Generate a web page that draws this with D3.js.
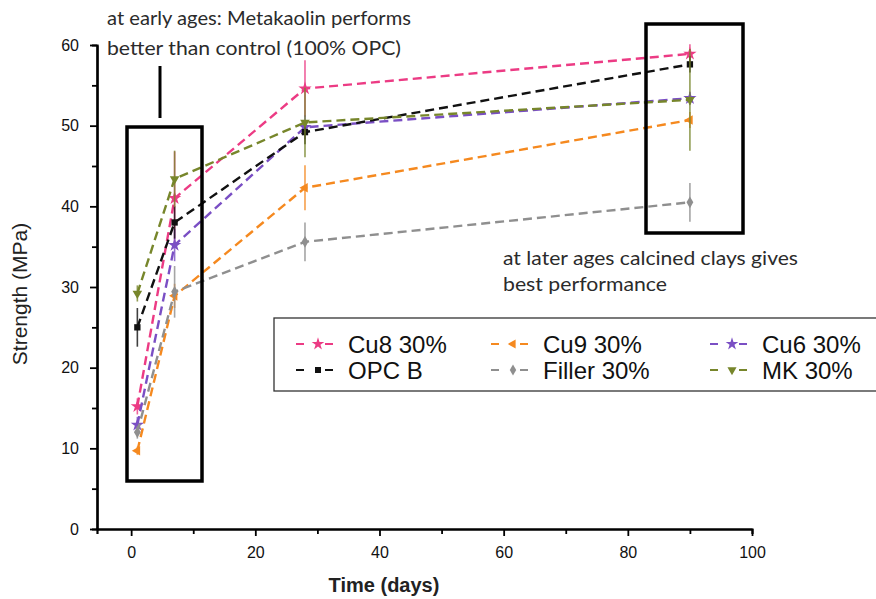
<!DOCTYPE html>
<meta charset="utf-8">
<style>
body{margin:0;background:#fff;}
svg text{font-family:"Liberation Sans",Arial,sans-serif;}
.note{font-family:Lato,"Open Sans",sans-serif;font-size:19px;fill:#2b2b2b;}
</style>
<svg id="chart" width="876" height="599"></svg>
<script src="https://d3js.org/d3.v7.min.js"></script>
<script>
// curing ages and compressive strength of each mix
const days = [1, 7, 28, 90]
const seriesNames = ['Cu8 30%', 'Cu9 30%', 'Cu6 30%', 'OPC B', 'Filler 30%', 'MK 30%']
const cu8 = [15.2, 41.0, 54.6, 58.9]
const cu9 = [9.7, 28.9, 42.3, 50.7]
const cu6 = [12.9, 35.2, 49.8, 53.4]
const opcB = [25.0, 38.0, 49.2, 57.6]
const filler = [12.0, 29.4, 35.6, 40.5]
const mk = [29.2, 43.4, 50.4, 53.2]
const cu8Err = [1.0, 5.8, 3.5, 1.2]
const cu9Err = [0.5, 1.5, 2.8, 1.0]
const cu6Err = [1.0, 2.0, 1.5, 0.8]
const opcErr = [2.4, 2.0, 1.5, 1.0]
const fillerErr = [0.8, 3.2, 2.4, 2.4]
const mkErr = [1.0, 3.5, 4.3, 6.3]
const xTicks = [0, 20, 40, 60, 80, 100]
const yTicks = [0, 10, 20, 30, 40, 50, 60]

const colors = ['#ec3b84', '#f5891f', '#7a4fc4', '#111111', '#8f8f8f', '#77862b']
const symbols = [d3.symbolStar, 'left', d3.symbolStar, d3.symbolSquare, d3.symbolDiamond, 'down']
const values = [cu8, cu9, cu6, opcB, filler, mk]
const errs = [cu8Err, cu9Err, cu6Err, opcErr, fillerErr, mkErr]

const svg = d3.select('#chart')
const x = d3.scaleLinear().domain([-5.5, 100]).range([97, 752])
const y = d3.scaleLinear().domain([0, 60]).range([529, 45])

// axes
const xAxis = svg.append('g').attr('transform', 'translate(0,529)')
  .call(d3.axisBottom(x).tickValues(xTicks).tickSize(7).tickSizeOuter(0))
xAxis.append('g').call(d3.axisBottom(x).tickValues([10, 30, 50, 70, 90]).tickSize(5).tickFormat(''))
const yAxis = svg.append('g').attr('transform', 'translate(97,0)')
  .call(d3.axisLeft(y).tickValues(yTicks).tickSize(7).tickSizeOuter(0))
yAxis.append('g').call(d3.axisLeft(y).tickValues([5, 15, 25, 35, 45, 55]).tickSize(5).tickFormat(''))
svg.selectAll('.domain').attr('stroke', '#000').attr('stroke-width', 2.2)
svg.selectAll('.tick line').attr('stroke', '#000').attr('stroke-width', 1.8)
svg.selectAll('.tick text').attr('fill', '#111')
  .style('font-family', '"Liberation Sans Narrow","Liberation Sans",Arial').style('font-size', '16px')
xAxis.selectAll('.tick text').attr('dy', '1.2em')
yAxis.selectAll('.tick text').attr('dx', '-0.5em')

svg.append('text').attr('x', 384).attr('y', 592).attr('text-anchor', 'middle')
  .style('font-family', '"Liberation Sans Narrow","Liberation Sans",Arial')
  .style('font-size', '20px').style('font-weight', 'bold').attr('fill', '#222').text('Time (days)')
svg.append('text').attr('transform', 'translate(27,294) rotate(-90)').attr('text-anchor', 'middle')
  .style('font-size', '21px').attr('fill', '#222').text('Strength (MPa)')

function marker(sym, size) {
  if (sym === 'left' || sym === 'down') return d3.symbol().type(d3.symbolTriangle).size(size)()
  return d3.symbol().type(sym).size(size)()
}
function rot(sym) { return sym === 'left' ? -90 : sym === 'down' ? 180 : 0 }

const line = d3.line().x(d => x(d[0])).y(d => y(d[1]))

values.forEach((vals, s) => {
  const pts = days.map((d, i) => [d, vals[i], errs[s][i]])
  const g = svg.append('g')
  g.append('path').datum(pts).attr('d', line).attr('fill', 'none')
    .attr('stroke', colors[s]).attr('stroke-width', 2.4).attr('stroke-dasharray', '9,5')
  g.selectAll('line.err').data(pts).enter().append('line')
    .attr('x1', d => x(d[0])).attr('x2', d => x(d[0]))
    .attr('y1', d => y(d[1] - d[2])).attr('y2', d => y(d[1] + d[2]))
    .attr('stroke', colors[s]).attr('stroke-width', 1.6).attr('opacity', 0.8)
  g.selectAll('path.mk').data(pts).enter().append('path')
    .attr('d', marker(symbols[s], symbols[s] === d3.symbolStar ? 55 : 40))
    .attr('transform', d => `translate(${x(d[0])},${y(d[1])}) rotate(${rot(symbols[s])})`)
    .attr('fill', colors[s])
})

// annotation boxes
svg.append('rect').attr('x', 127).attr('y', 127).attr('width', 75).attr('height', 354)
  .attr('fill', 'none').attr('stroke', '#000').attr('stroke-width', 3.5)
svg.append('rect').attr('x', 646).attr('y', 24).attr('width', 97).attr('height', 209)
  .attr('fill', 'none').attr('stroke', '#000').attr('stroke-width', 3.5)
svg.append('line').attr('x1', 160).attr('x2', 160).attr('y1', 66).attr('y2', 118)
  .attr('stroke', '#000').attr('stroke-width', 3)

const notes = [
  ['at early ages: Metakaolin performs', 107, 25, 304],
  ['better than control (100% OPC)', 107, 55, 294],
  ['at later ages calcined clays gives', 503, 265, 295],
  ['best performance', 503, 291, 164]
]
notes.forEach(n => svg.append('text').attr('class', 'note').attr('x', n[1]).attr('y', n[2])
  .attr('textLength', n[3]).attr('lengthAdjust', 'spacingAndGlyphs').text(n[0]))

// legend
svg.append('rect').attr('x', 274).attr('y', 318).attr('width', 610).attr('height', 73)
  .attr('fill', '#fff').attr('stroke', '#333').attr('stroke-width', 1.3)
const legX = [318, 513, 732]
seriesNames.forEach((name, i) => {
  const s = i
  const cx = legX[i % 3], cy = i < 3 ? 344 : 370
  const lg = svg.append('g').attr('transform', `translate(${cx},${cy})`)
  lg.append('line').attr('x1', -22).attr('x2', -14).attr('y1', 0).attr('y2', 0)
    .attr('stroke', colors[s]).attr('stroke-width', 2)
  lg.append('line').attr('x1', 7).attr('x2', 15).attr('y1', 0).attr('y2', 0)
    .attr('stroke', colors[s]).attr('stroke-width', 2)
  lg.append('path').attr('d', marker(symbols[s], symbols[s] === d3.symbolStar ? 50 : 36))
    .attr('transform', `rotate(${rot(symbols[s])})`).attr('fill', colors[s])
  lg.append('text').attr('x', 30).attr('y', 8.5).style('font-size', '24px').attr('fill', '#111')
    .text(name)
})
</script>
